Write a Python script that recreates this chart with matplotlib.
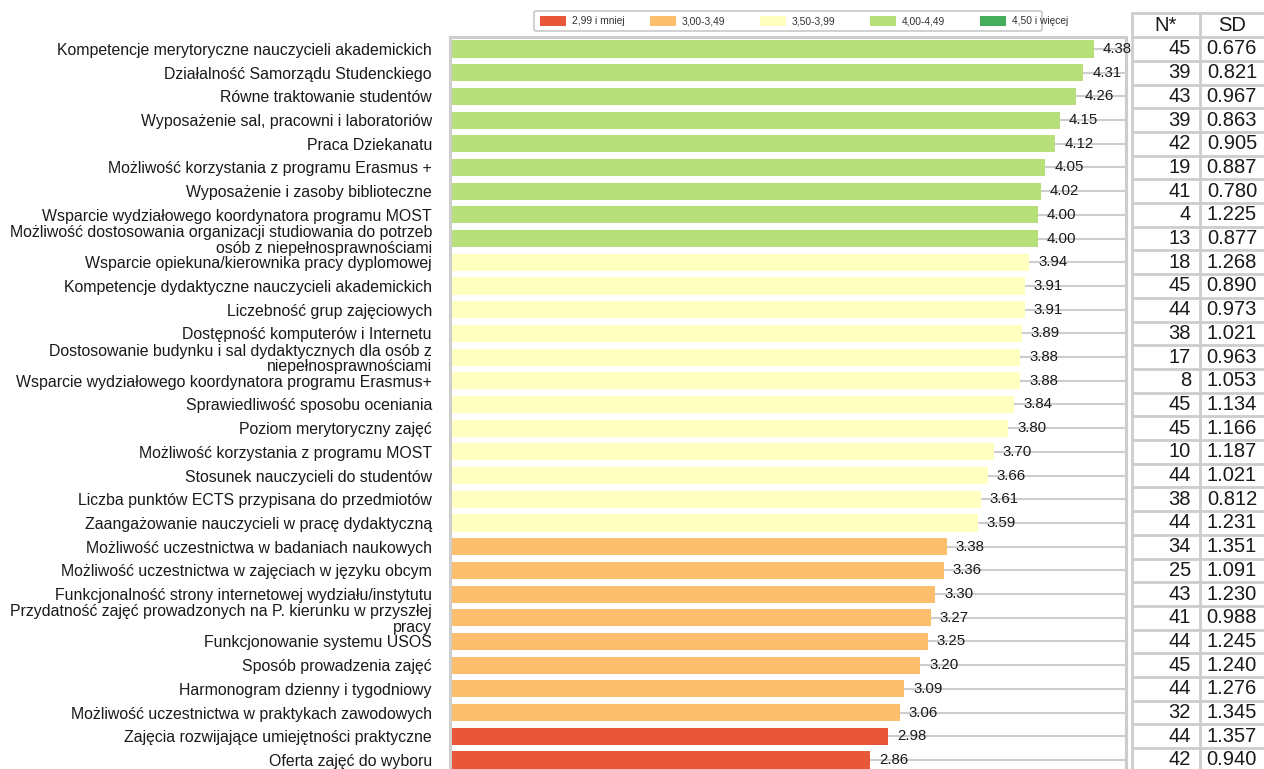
import matplotlib
matplotlib.use("Agg")
import matplotlib.pyplot as plt
from matplotlib.patches import Rectangle, FancyBboxPatch
from matplotlib.transforms import blended_transform_factory
import numpy as np

plt.rcParams['font.family'] = ['Liberation Sans', 'DejaVu Sans']

categories = [
    "Kompetencje merytoryczne nauczycieli akademickich",
    "Działalność Samorządu Studenckiego",
    "Równe traktowanie studentów",
    "Wyposażenie sal, pracowni i laboratoriów",
    "Praca Dziekanatu",
    "Możliwość korzystania z programu Erasmus +",
    "Wyposażenie i zasoby biblioteczne",
    "Wsparcie wydziałowego koordynatora programu MOST",
    "Możliwość dostosowania organizacji studiowania do potrzeb\nosób z niepełnosprawnościami",
    "Wsparcie opiekuna/kierownika pracy dyplomowej",
    "Kompetencje dydaktyczne nauczycieli akademickich",
    "Liczebność grup zajęciowych",
    "Dostępność komputerów i Internetu",
    "Dostosowanie budynku i sal dydaktycznych dla osób z\nniepełnosprawnościami",
    "Wsparcie wydziałowego koordynatora programu Erasmus+",
    "Sprawiedliwość sposobu oceniania",
    "Poziom merytoryczny zajęć",
    "Możliwość korzystania z programu MOST",
    "Stosunek nauczycieli do studentów",
    "Liczba punktów ECTS przypisana do przedmiotów",
    "Zaangażowanie nauczycieli w pracę dydaktyczną",
    "Możliwość uczestnictwa w badaniach naukowych",
    "Możliwość uczestnictwa w zajęciach w języku obcym",
    "Funkcjonalność strony internetowej wydziału/instytutu",
    "Przydatność zajęć prowadzonych na P. kierunku w przyszłej\npracy",
    "Funkcjonowanie systemu USOS",
    "Sposób prowadzenia zajęć",
    "Harmonogram dzienny i tygodniowy",
    "Możliwość uczestnictwa w praktykach zawodowych",
    "Zajęcia rozwijające umiejętności praktyczne",
    "Oferta zajęć do wyboru",
]

means = [4.38, 4.31, 4.26, 4.15, 4.12, 4.05, 4.02, 4.00, 4.00, 3.94, 3.91,
         3.91, 3.89, 3.88, 3.88, 3.84, 3.80, 3.70, 3.66, 3.61, 3.59, 3.38,
         3.36, 3.30, 3.27, 3.25, 3.20, 3.09, 3.06, 2.98, 2.86]

counts = [45, 39, 43, 39, 42, 19, 41, 4, 13, 18, 45, 44, 38, 17, 8, 45, 45,
          10, 44, 38, 44, 34, 25, 43, 41, 44, 45, 44, 32, 44, 42]

sds = [0.676, 0.821, 0.967, 0.863, 0.905, 0.887, 0.780, 1.225, 0.877, 1.268,
       0.890, 0.973, 1.021, 0.963, 1.053, 1.134, 1.166, 1.187, 1.021, 0.812,
       1.231, 1.351, 1.091, 1.230, 0.988, 1.245, 1.240, 1.276, 1.345, 1.357,
       0.940]

bin_labels = ["2,99 i mniej", "3,00-3,49", "3,50-3,99", "4,00-4,49", "4,50 i więcej"]
bin_edges = [3.0, 3.5, 4.0, 4.5]
bin_colors = ["#e9573b", "#fdbe6e", "#ffffc0", "#b8e07a", "#46ad5c"]

W, H = 1264, 769
fig = plt.figure(figsize=(W / 100, H / 100), dpi=100)

GRID = "#cdcdcd"
TXT = "#1a1a1a"
ax_left, ax_right, ax_top = 450, 1126, 37
ax = fig.add_axes([ax_left / W, 0, (ax_right - ax_left) / W, 1 - ax_top / H])

y = np.arange(len(categories))
colors = [bin_colors[int(np.searchsorted(bin_edges, m, side="right"))] for m in means]

# horizontal guide lines behind the bars
for yi in y:
    ax.axhline(yi, color=GRID, lw=1.5, zorder=0)

ax.barh(y, means, height=0.72, color=colors, zorder=2)
for yi, m in zip(y, means):
    ax.annotate(f"{m:.2f}", (m, yi), xytext=(6.5, 0), textcoords="offset points",
                ha="left", va="center", fontsize=10.8, color=TXT, zorder=3)

ax.set_xlim(0, 4.6)
ax.set_ylim(30.38, -0.506)
ax.set_xticks([])
ax.set_yticks(y)
ax.set_yticklabels(categories, fontsize=11.4, linespacing=1.05, color=TXT)
ax.tick_params(axis="y", length=0, pad=13)
for side in ["left", "top", "right"]:
    ax.spines[side].set_color(GRID)
    ax.spines[side].set_linewidth(2.2)
ax.spines["bottom"].set_visible(False)

# N / SD table on the right, rows aligned with the bars
tr = blended_transform_factory(fig.transFigure, ax.transData)
c0, c1, c2 = 1132 / W, 1200 / W, 1.0
for b in np.arange(-1.5, len(categories) + 0.5, 1.0):
    ax.plot([c0, c2], [b, b], transform=tr, color=GRID, lw=2, clip_on=False, zorder=1)
for cx in (c0, c1):
    ax.plot([cx, cx], [-1.5, 31.0], transform=tr, color=GRID, lw=2, clip_on=False, zorder=1)

ax.text((c0 + c1) / 2, -1.0, "N*", transform=tr, ha="center", va="center",
        fontsize=14.5, color=TXT)
ax.text((c1 + 1264 / W) / 2, -1.0, "SD", transform=tr, ha="center", va="center",
        fontsize=14.5, color=TXT)
for yi, n, s in zip(y, counts, sds):
    ax.text(1191 / W, yi, f"{n}", transform=tr, ha="right", va="center",
            fontsize=14.5, color=TXT)
    ax.text(1257 / W, yi, f"{s:.3f}", transform=tr, ha="right", va="center",
            fontsize=14.5, color=TXT)

# legend strip above the plot
lx0, lx1, ly0, ly1 = 533, 1043, 10, 32
lax = fig.add_axes([lx0 / W, 1 - ly1 / H, (lx1 - lx0) / W, (ly1 - ly0) / H])
lax.set_xlim(0, lx1 - lx0)
lax.set_ylim(0, ly1 - ly0)
lax.axis("off")
lax.add_patch(FancyBboxPatch((1, 1), lx1 - lx0 - 2, ly1 - ly0 - 2,
                             boxstyle="round,pad=0,rounding_size=2",
                             fc="white", ec="#c8c8c8", lw=1.2))
for i, (lab, col) in enumerate(zip(bin_labels, bin_colors)):
    px = 7 + i * 110
    lax.add_patch(Rectangle((px, 6), 26, 10, fc=col, ec="none"))
    lax.text(px + 32, 11, lab, ha="left", va="center", fontsize=7.4, color="#333333")

fig.savefig("out.png", dpi=100)
